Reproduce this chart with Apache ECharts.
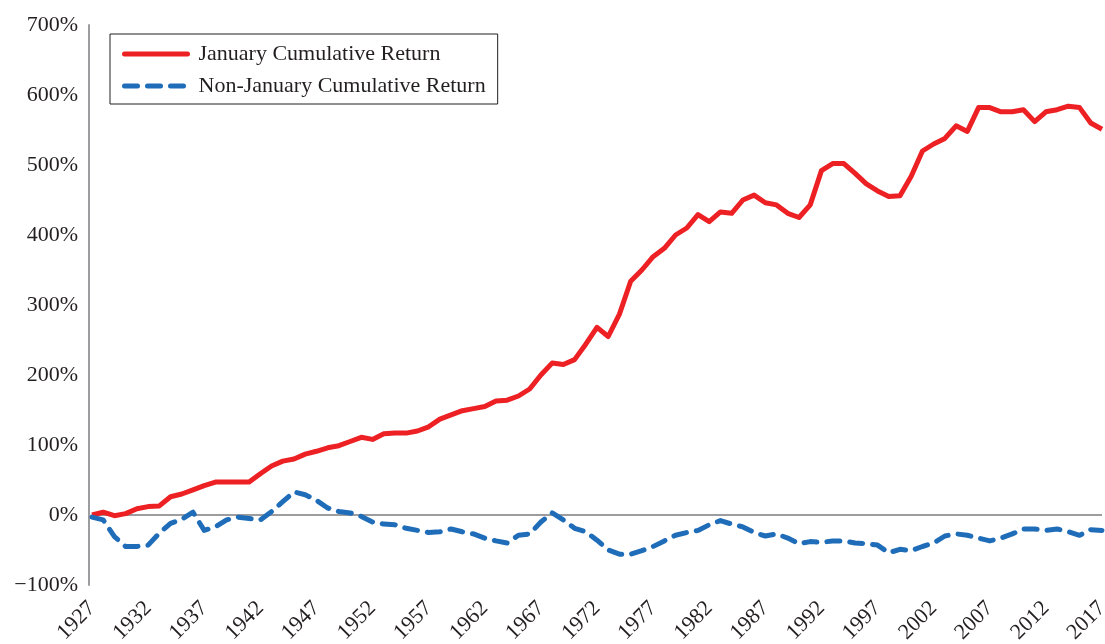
<!DOCTYPE html>
<html lang="en">
  <head>
    <meta charset="UTF-8" />
    <title>January vs Non-January Cumulative Return</title>
    <style>
      body {
        margin: 0;
        overflow: hidden;
        background: #fff;
      }
      #chart {
        width: 1105px;
        height: 644px;
      }
    </style>
    <script src="https://cdn.jsdelivr.net/npm/echarts@6/dist/echarts.min.js"></script>
  </head>

  <body>
    <div id="chart"></div>
    <script>
      // years 1927..2017
      var years = [];
      for (var y = 1927; y <= 2017; y++) years.push(String(y));

      // cumulative return, %
      var januaryReturn = [
        0, 4, -1, 2, 9, 12, 13, 26, 30, 36,
        42, 47, 47, 47, 47, 59, 70, 77, 80, 87,
        91, 96, 99, 105, 111, 108, 116, 117, 117, 120,
        126, 137, 143, 149, 152, 155, 163, 164, 170, 180,
        200, 217, 215, 222, 244, 268, 255, 287, 334, 350,
        369, 381, 400, 410, 429, 419, 433, 431, 450, 457,
        446, 443, 431, 425, 443, 492, 502, 502, 488, 473,
        463, 455, 456, 484, 520, 530, 538, 556, 548, 582,
        582, 576, 576, 579, 562, 576, 579, 584, 582, 560,
        551
      ];
      var nonJanuaryReturn = [
        -3, -7, -31, -45, -45, -43, -26, -12, -6, 4,
        -22, -17, -7, -3, -5, -7, 5, 19, 33, 29,
        21, 10, 5, 3, -2, -10, -13, -14, -19, -22,
        -25, -24, -20, -24, -27, -33, -37, -40, -29, -27,
        -10, 3, -7, -19, -24, -36, -50, -56, -56, -51,
        -45, -37, -29, -25, -22, -14, -8, -13, -17, -25,
        -30, -27, -33, -41, -38, -39, -37, -37, -40, -41,
        -43, -54, -49, -51, -45, -40, -30, -27, -29, -33,
        -37, -33, -27, -20, -20, -22, -20, -24, -29, -21,
        -22
      ];

      var serif = "'Liberation Serif', 'DejaVu Serif', serif";
      var textColor = "#231f20";
      var gray = "#9d9d9f";

      var option = {
        animation: false,
        backgroundColor: "#fff",
        textStyle: { fontFamily: serif },
        grid: { left: 92, right: 3, top: 25, bottom: 59, outerBoundsMode: "none" },
        legend: {
          orient: "vertical",
          left: 110,
          top: 34,
          padding: [9, 12, 7, 12],
          itemGap: 10,
          itemWidth: 63,
          itemHeight: 14,
          borderColor: "#231f20",
          borderWidth: 1,
          itemStyle: { opacity: 0 },
          lineStyle: { width: 5, cap: "round" },
          textStyle: {
            fontFamily: serif,
            fontSize: 22,
            lineHeight: 22,
            color: textColor,
            padding: [0, 0, 0, 6]
          },
          data: ["January Cumulative Return", "Non-January Cumulative Return"]
        },
        xAxis: {
          type: "category",
          data: years,
          boundaryGap: false,
          axisLine: { show: false, onZero: false },
          axisTick: { show: false },
          axisLabel: {
            interval: 4,
            rotate: 45,
            margin: 20,
            fontFamily: serif,
            fontSize: 22,
            color: textColor
          }
        },
        yAxis: {
          type: "value",
          min: -100,
          max: 700,
          interval: 100,
          offset: 3,
          axisLine: { show: true, onZero: false, lineStyle: { color: gray, width: 2 } },
          axisTick: { show: false },
          splitLine: { show: false },
          axisLabel: {
            margin: 11,
            fontFamily: serif,
            fontSize: 22,
            color: textColor,
            formatter: function (v) {
              return (v < 0 ? "\u2212" + Math.abs(v) : v) + "%";
            }
          }
        },
        series: [
          {
            name: "January Cumulative Return",
            type: "line",
            data: januaryReturn,
            symbol: "none",
            color: "#ed2024",
            lineStyle: { width: 5, color: "#ed2024", join: "round" },
            // zero line, kept under the lines
            markLine: {
              z: 1,
              silent: true,
              symbol: ["none", "none"],
              label: { show: false },
              lineStyle: { color: gray, width: 2, type: "solid" },
              data: [{ yAxis: 0 }]
            }
          },
          {
            name: "Non-January Cumulative Return",
            type: "line",
            data: nonJanuaryReturn,
            symbol: "none",
            color: "#1f6db8",
            lineStyle: {
              width: 5,
              color: "#1f6db8",
              type: [13, 10],
              cap: "round",
              join: "round"
            }
          }
        ]
      };

      var chart = echarts.init(document.getElementById("chart"));
      chart.setOption(option);
    </script>
  </body>
</html>
